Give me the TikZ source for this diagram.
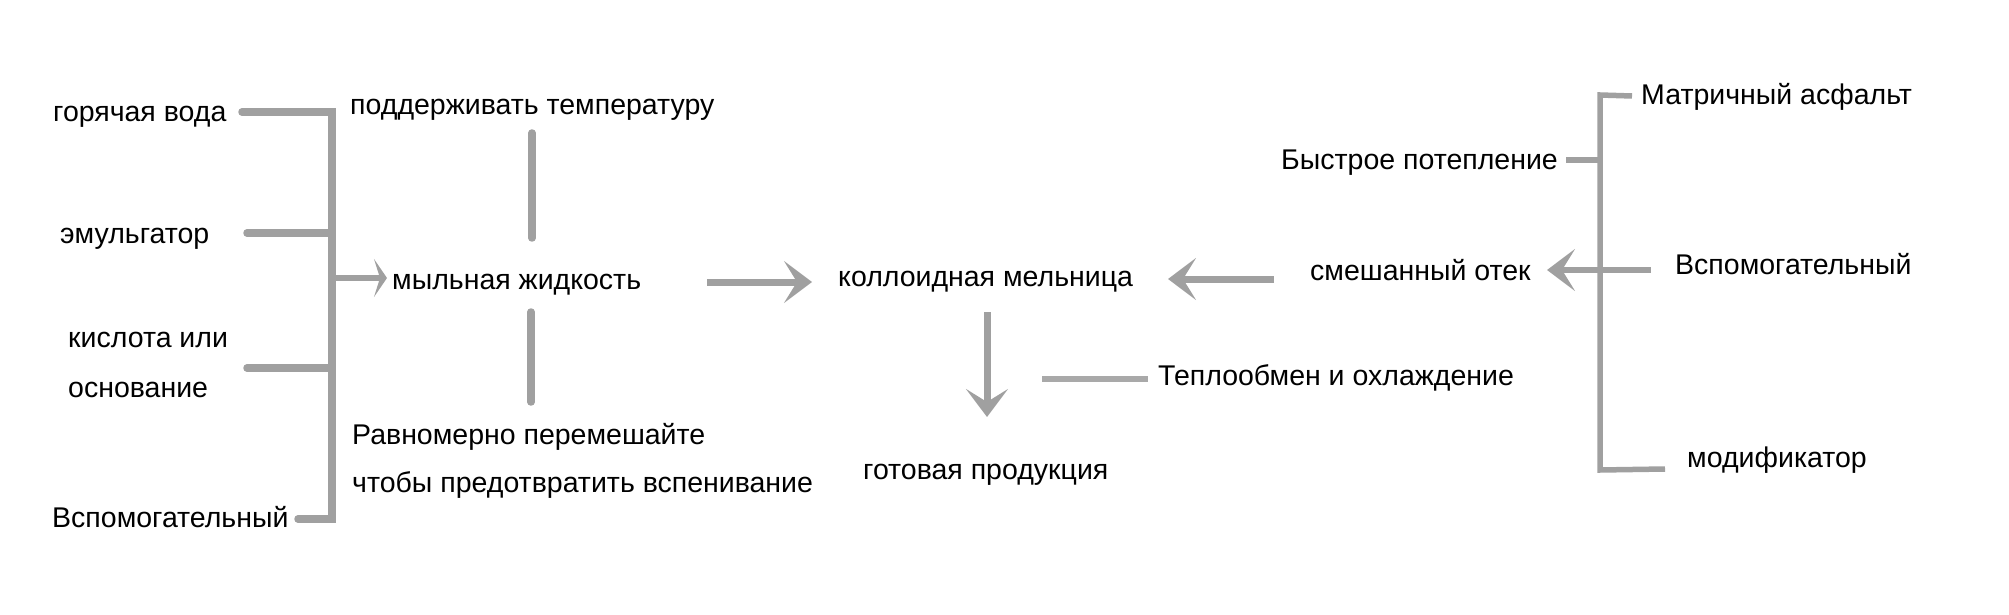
\documentclass[tikz,border=0pt]{standalone}
\usepackage{fontspec}
\setmainfont{Liberation Sans}
\usetikzlibrary{arrows.meta}
\definecolor{lg}{HTML}{A0A0A0}
\begin{document}
\begin{tikzpicture}[x=1bp,y=-1bp,
  lbl/.style={anchor=base west,inner sep=0pt,font=\fontsize{28.5bp}{34bp}\selectfont},
  thick line/.style={draw=lg,line width=7.5bp},
  thin line/.style={draw=lg,line width=5.5bp},
  bigarrow/.style={draw=lg,line width=7bp,-{Stealth[length=28bp,width=42bp,inset=13bp]}},
  smallarrow/.style={draw=lg,line width=5.5bp,-{Stealth[length=13bp,width=38bp,inset=6bp]}}]
\useasboundingbox (0,0) rectangle (2009,615);
% left inputs
\node[lbl] (hw) at (53,122) {горячая вода};
\node[lbl] (em) at (60,244) {эмульгатор};
\node[lbl] (ki) at (68,347) {кислота или};
\node[lbl] (os) at (68,397) {основание};
\node[lbl] (vs) at (52,527) {Вспомогательный};
% middle
\node[lbl] (pt) at (350,115) {поддерживать температуру};
\node[lbl] (mz) at (392,290) {мыльная жидкость};
\node[lbl] (rp) at (352,444) {Равномерно перемешайте};
\node[lbl] (cp) at (352,492) {чтобы предотвратить вспенивание};
\node[lbl] (km) at (838,287) {коллоидная мельница};
\node[lbl] (gp) at (863,479) {готовая продукция};
\node[lbl] (to) at (1158,385) {Теплообмен и охлаждение};
% right
\node[lbl] (ma) at (1641,105) {Матричный асфальт};
\node[lbl] (bp) at (1281,170) {Быстрое потепление};
\node[lbl] (so) at (1310,281) {смешанный отек};
\node[lbl] (vr) at (1675,275) {Вспомогательный};
\node[lbl] (md) at (1687,467) {модификатор};
% left bracket
\coordinate (lbtop) at (332,112);
\coordinate (lbbot) at (332,519);
\coordinate (lbmid) at (332,278);
\coordinate (mzin) at (387,278);
\draw[thick line,line cap=round] (242,112) -- (lbtop) -- (lbbot) -- (298,519);
\draw[thick line,line cap=round] (247,233) -- (332,233);
\draw[thick line,line cap=round] (247,368) -- (332,368);
\draw[smallarrow] (lbmid) -- (mzin);
% vertical links around soap liquid
\draw[thick line,line cap=round] (532,133) -- (532,238);
\draw[thick line,line cap=round] (531,312) -- (531,402);
% main flow
\draw[bigarrow] (707,282) -- (812,282);
\draw[bigarrow] (1274,279) -- (1168,279);
\draw[bigarrow] (987,312) -- (987,417);
\draw[draw=lg,line width=6bp,opacity=0.9] (1042,379) -- (1148,379);
% right bracket
\coordinate (rbtop) at (1600,95);
\coordinate (rbbot) at (1600,470);
\draw[thin line] (1632,96) -- (rbtop) -- (rbbot) -- (1665,469);
\draw[thin line] (1566,160) -- (1600,160);
\draw[bigarrow,line width=6bp] (1651,270) -- (1547,270);
\end{tikzpicture}
\end{document}
